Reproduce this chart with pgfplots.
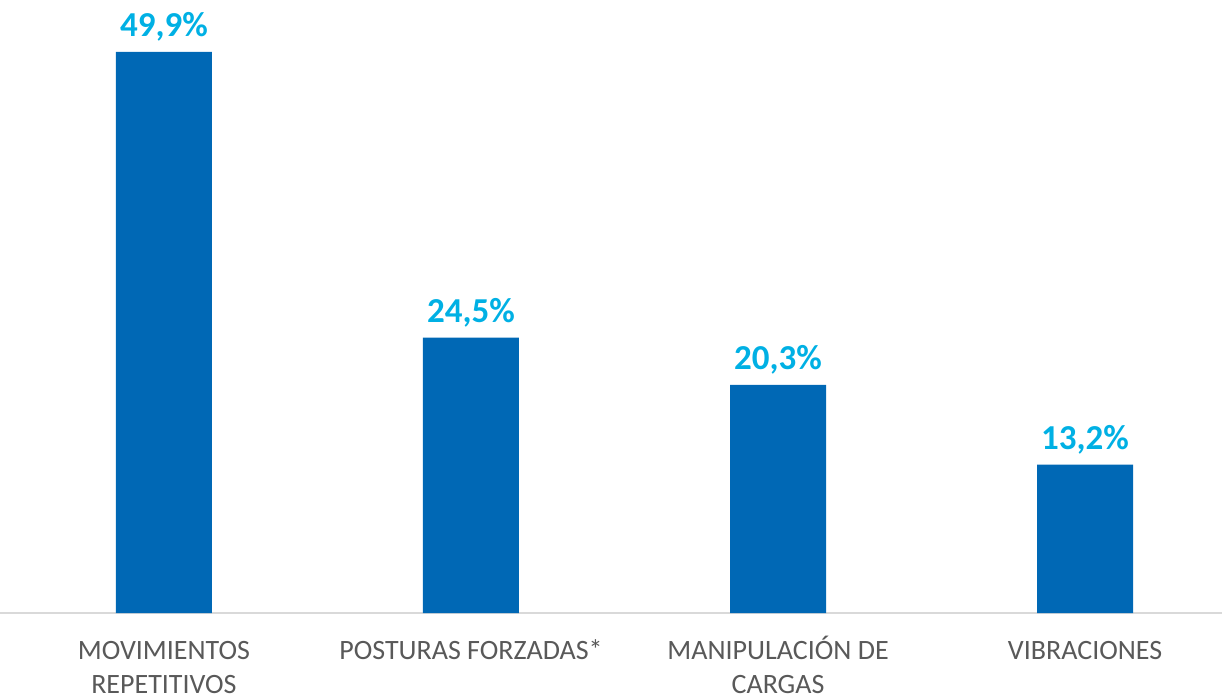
\documentclass[border=0pt]{standalone}
\usepackage{pgfplots}
\pgfplotsset{compat=1.18}
\usepackage{fontspec}
\setmainfont{Carlito}
\definecolor{barblue}{HTML}{0068B5}
\definecolor{valcyan}{HTML}{00B0E4}
\definecolor{labgray}{HTML}{595959}
\definecolor{basegray}{HTML}{D9D9D9}
\begin{document}
\begin{tikzpicture}
\begin{axis}[
  scale only axis,
  width=611pt, height=306.5pt,
  xmin=-0.534, xmax=3.446,
  ymin=0, ymax=54.52,
  axis x line*=bottom,
  axis y line=none,
  x axis line style={draw=basegray, line width=0.8pt},
  xtick={0,1,2,3},
  xticklabels={\strut MOVIMIENTOS\\REPETITIVOS, \strut POSTURAS FORZADAS*, \strut MANIPULACIÓN DE\\CARGAS, \strut VIBRACIONES},
  x tick label style={font=\fontsize{14pt}{17pt}\selectfont, text=labgray, align=center, anchor=north, yshift=-7.8pt},
  major tick length=0pt,
  ybar, bar width=48pt,
  nodes near coords={\pgfmathprintnumber[fixed, fixed zerofill, precision=1, use comma, assume math mode=true]{\pgfplotspointmeta}\%},
  nodes near coords style={font=\fontsize{17.5pt}{20pt}\selectfont\bfseries, text=valcyan, anchor=base, yshift=7.5pt},
]
\addplot[fill=barblue, draw=none] coordinates {(0,49.9) (1,24.5) (2,20.3) (3,13.2)};
\end{axis}
\pgfresetboundingbox
\path[use as bounding box] (current axis.south west) ++(0,-42pt) rectangle (current axis.north east);
\end{tikzpicture}
\end{document}
